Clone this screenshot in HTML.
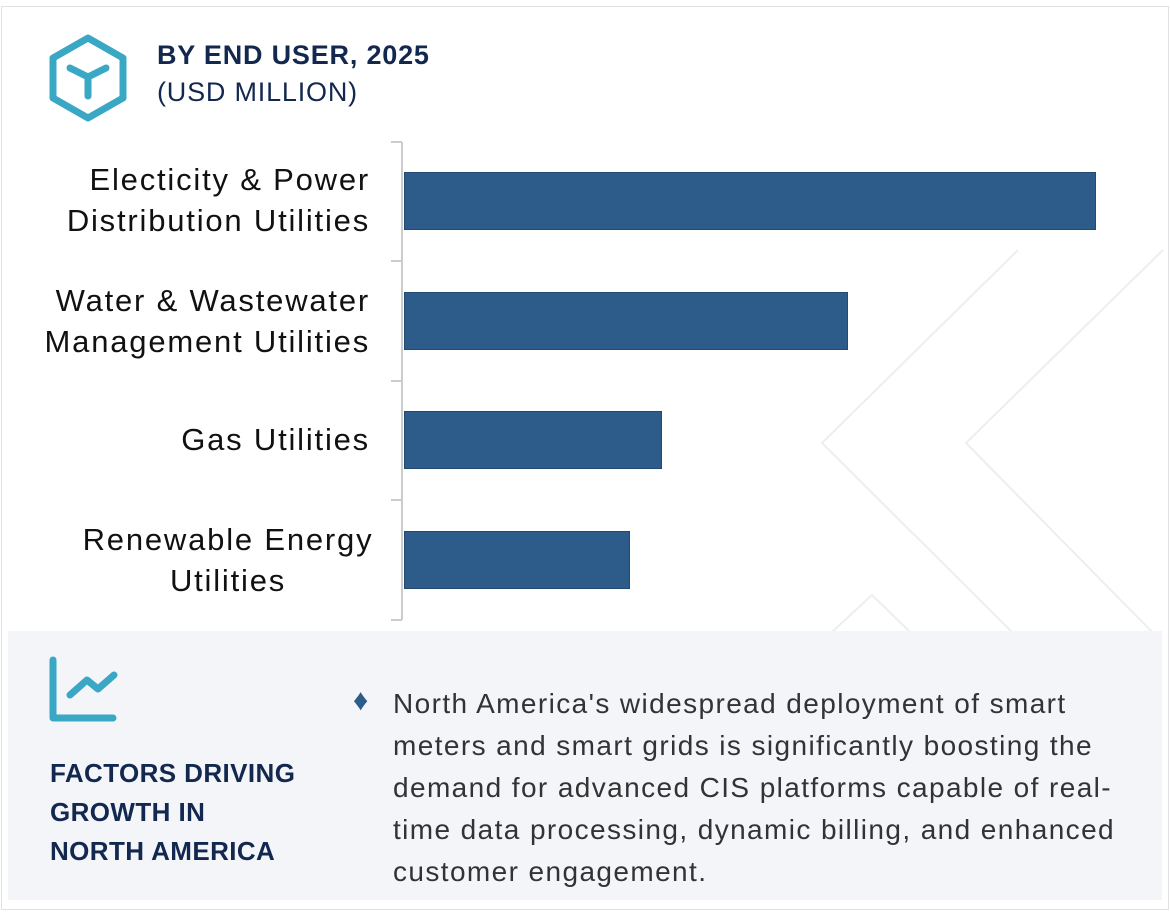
<!DOCTYPE html>
<html><head><meta charset="utf-8"><style>
body{margin:0;width:1170px;height:924px;background:#fff;position:relative;overflow:hidden;font-family:"Liberation Sans",sans-serif}
.a{position:absolute}
.lbl{position:absolute;right:800px;text-align:right;font-size:31px;line-height:41px;color:#111;letter-spacing:1.8px;white-space:nowrap}
.bar{position:absolute;left:404px;height:58px;background:#2d5b8a;border:1px solid #234a73;box-sizing:border-box}
</style></head><body>
<div class="a" style="left:1px;top:6px;width:1166px;height:902px;border:1px solid #dfe1e6"></div>
<svg class="a" style="left:0;top:0" width="1170" height="924">
<g fill="none" stroke="#eeeeee" stroke-width="2">
<polyline points="1018,250 822,443 1012,632"/>
<polyline points="1163,250 966,443 1160,640"/>
<polyline points="832,632 872,595 910,632"/>
</g>
<polygon points="88,38 123,58 123,98 88,118 53,98 53,58" fill="none" stroke="#3aa8c5" stroke-width="7" stroke-linejoin="round"/>
<g stroke="#3aa8c5" stroke-width="7" stroke-linecap="round" fill="none">
<line x1="88" y1="77" x2="70" y2="68"/><line x1="88" y1="77" x2="106" y2="68"/><line x1="88" y1="77" x2="88" y2="96"/>
</g>
<g stroke="#cccccc" stroke-width="2" fill="none">
<line x1="402" y1="142" x2="402" y2="620"/>
<line x1="391" y1="142" x2="402" y2="142"/><line x1="391" y1="261" x2="402" y2="261"/>
<line x1="391" y1="381" x2="402" y2="381"/><line x1="391" y1="500" x2="402" y2="500"/>
<line x1="391" y1="620" x2="402" y2="620"/>
</g>
</svg>
<div class="a" style="left:157px;top:40px;font-size:27px;font-weight:bold;color:#13284f;letter-spacing:0.8px">BY END USER, 2025</div>
<div class="a" style="left:157px;top:77px;font-size:27px;color:#13284f;letter-spacing:0.8px">(USD MILLION)</div>
<div class="lbl" style="top:159px">Electicity &amp; Power<br>Distribution Utilities</div>
<div class="lbl" style="top:280px">Water &amp; Wastewater<br>Management Utilities</div>
<div class="lbl" style="top:419px">Gas Utilities</div>
<div class="lbl" style="top:519px;right:auto;left:78px;width:300px;text-align:center">Renewable Energy<br>Utilities</div>
<div class="bar" style="top:172px;width:692px"></div>
<div class="bar" style="top:292px;width:444px"></div>
<div class="bar" style="top:411px;width:258px"></div>
<div class="bar" style="top:531px;width:226px"></div>
<div class="a" style="left:8px;top:631px;width:1154px;height:269px;background:#f3f5f9"></div>
<svg class="a" style="left:0;top:620px" width="200" height="120">
<g stroke="#3aa8c5" stroke-width="7" stroke-linecap="round" stroke-linejoin="round" fill="none">
<polyline points="53,40 53,98 113,98"/>
<polyline points="70,75 87,60 98,69 114,55"/>
</g>
</svg>
<div class="a" style="left:50px;top:754px;font-size:26px;line-height:39px;font-weight:bold;color:#13284f;letter-spacing:0.4px">FACTORS DRIVING<br>GROWTH IN<br>NORTH AMERICA</div>
<div class="a" style="left:353px;top:684px;font-size:30px;color:#2d5b8a">♦</div>
<div class="a" style="left:393px;top:683px;font-size:28px;line-height:42px;color:#333;letter-spacing:1.4px;white-space:nowrap">North America's widespread deployment of smart<br>meters and smart grids is significantly boosting the<br>demand for advanced CIS platforms capable of real-<br>time data processing, dynamic billing, and enhanced<br>customer engagement.</div>
</body></html>
